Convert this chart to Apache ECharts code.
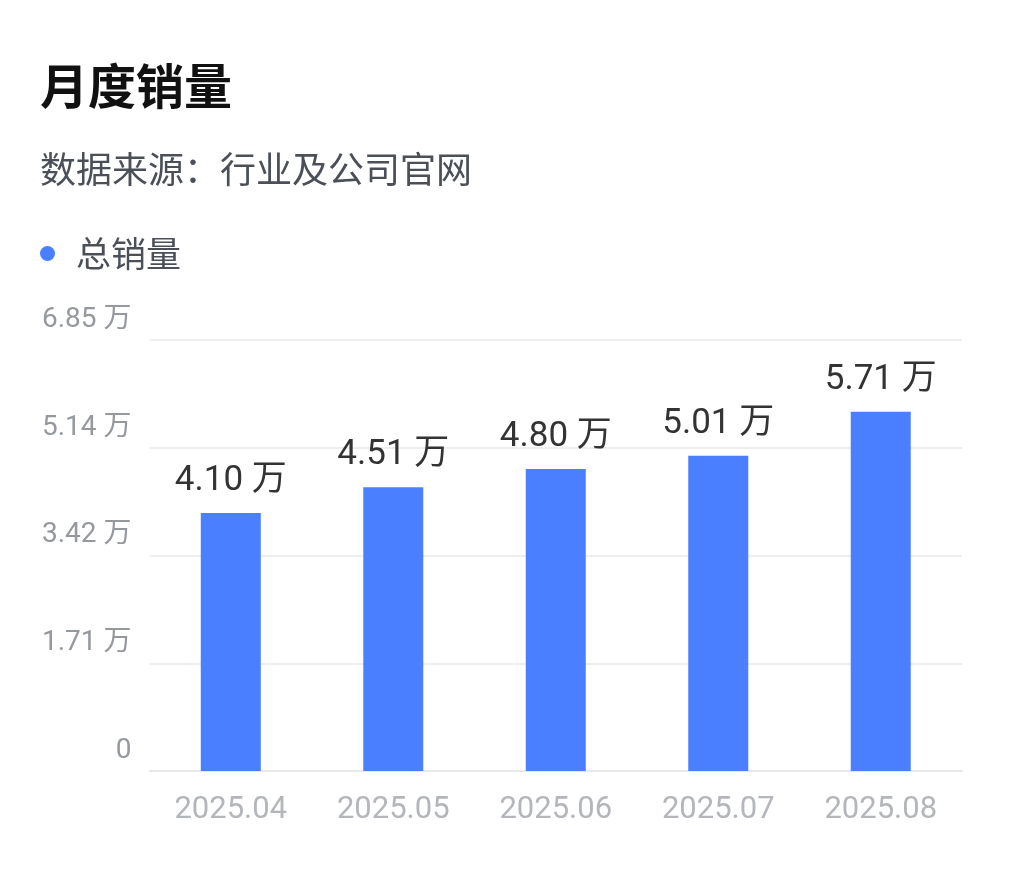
<!DOCTYPE html>
<html>
<head>
<meta charset="utf-8">
<script src="https://cdn.jsdelivr.net/npm/echarts@6/dist/echarts.min.js"></script>
<style>
  html, body { margin: 0; padding: 0; background: #ffffff; width: 1035px; height: 888px; overflow: hidden; }
  #chart { position: absolute; left: 39px; top: 0; width: 996px; height: 888px; }
</style>
</head>
<body>
<div id="chart"></div>
<script>
const titleText = '月度销量';
const subtitleText = '数据来源：行业及公司官网';
const seriesName = '总销量';
const categories = ['2025.04', '2025.05', '2025.06', '2025.07', '2025.08'];
const salesValues = [4.10, 4.51, 4.80, 5.01, 5.71];
const yMax = 6.85;
const yTickLabels = ['0', '1.71 万', '3.42 万', '5.14 万', '6.85 万'];
const unit = ' 万';

const FONT = 'Roboto, "Noto Sans CJK SC", sans-serif';
const chart = echarts.init(document.getElementById('chart'), null, { renderer: 'canvas' });
const yInterval = yMax / (yTickLabels.length - 1);

chart.setOption({
  backgroundColor: '#ffffff',
  animation: false,
  title: [
    { text: titleText, left: 1, top: 62, padding: 0,
      textStyle: { fontFamily: '"Noto Sans CJK SC", sans-serif', fontSize: 48, fontWeight: 'bold', color: '#111111' } },
    { text: subtitleText, left: 1, top: 151, padding: 0,
      textStyle: { fontFamily: '"Noto Sans CJK SC", sans-serif', fontSize: 36, fontWeight: 'normal', color: '#4b5058' } }
  ],
  legend: {
    left: 1, top: 236, padding: 0,
    icon: 'circle', itemWidth: 15, itemHeight: 15,
    textStyle: { fontFamily: '"Noto Sans CJK SC", sans-serif', fontSize: 35, color: '#4b5058', padding: [0, 0, 0, 16] },
    data: [seriesName]
  },
  grid: { left: 109, right: 73, top: 340, bottom: 117, containLabel: false },
  xAxis: {
    type: 'category',
    data: categories,
    axisLine: { show: true, lineStyle: { color: '#e6e8eb', width: 2 } },
    axisTick: { show: false },
    axisLabel: { fontFamily: FONT, fontSize: 31, color: '#b3b6ba', margin: 24 }
  },
  yAxis: {
    type: 'value',
    min: 0, max: yMax, interval: yInterval,
    axisLine: { show: false },
    axisTick: { show: false },
    splitLine: { lineStyle: { color: '#eceef0', width: 2 } },
    axisLabel: {
      fontFamily: FONT, fontSize: 28, color: '#95999e', margin: 18,
      verticalAlign: 'bottom', padding: [0, 0, 6, 0],
      formatter: function (v) {
        const i = Math.round(v / yInterval);
        return yTickLabels[i] !== undefined ? yTickLabels[i] : '';
      }
    }
  },
  series: [{
    name: seriesName,
    type: 'bar',
    data: salesValues,
    barWidth: 60,
    itemStyle: { color: '#4a80ff' },
    label: {
      show: true, position: 'top', distance: 14,
      fontFamily: FONT, fontSize: 35, color: '#333333',
      formatter: function (p) { return p.value.toFixed(2) + unit; }
    }
  }]
});
</script>
</body>
</html>
